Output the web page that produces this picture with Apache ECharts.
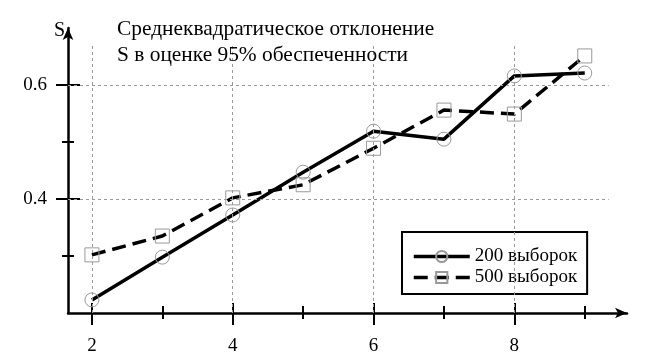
<!DOCTYPE html>
<html><head><meta charset="utf-8">
<script src="https://cdn.jsdelivr.net/npm/echarts@6/dist/echarts.min.js"></script>
<style>html,body{margin:0;padding:0;background:#fff}#c{width:650px;height:356px}</style>
</head><body><div id="c"></div>
<script>
const xValues = [2, 3, 4, 5, 6, 7, 8, 9];
const s200 = [0.223, 0.298, 0.372, 0.447, 0.519, 0.505, 0.616, 0.621];
const s500 = [0.302, 0.335, 0.402, 0.425, 0.489, 0.556, 0.549, 0.651];
const xTickMajor = [2, 4, 6, 8];
const xTickMinor = [3, 5, 7, 9];
const yTickMajor = [0.4, 0.6];
const yTickMinor = [0.3, 0.5];
const seriesNames = ['200 выборок', '500 выборок'];
const titleText = 'Среднеквадратическое отклонение\nS в оценке 95% обеспеченности';
const yName = 'S';

const serif = 'Liberation Serif';
const XMIN = 1.66, XMAX = 9.6, YMIN = 0.2, YMAX = 0.7;
const tickLS = {color: '#000', width: 2};

function xAx(o) {
  return Object.assign({type: 'value', min: XMIN, max: XMAX, position: 'bottom', offset: 0,
    splitLine: {show: false}, axisLine: {show: false}, axisLabel: {show: false}, axisTick: {show: false}}, o);
}
function yAx(o) {
  return Object.assign({type: 'value', min: YMIN, max: YMAX, position: 'left', offset: 0,
    splitLine: {show: false}, axisLine: {show: false}, axisLabel: {show: false}, axisTick: {show: false}}, o);
}
const pair = (a) => a.map((v, i) => [xValues[i], v]);

const gridLines = [];
xTickMajor.forEach(x => gridLines.push([{coord: [x, YMIN]}, {coord: [x, 0.67]}]));
yTickMajor.forEach(y => gridLines.push([{coord: [XMIN, y]}, {coord: [9.34, y]}]));

const chart = echarts.init(document.getElementById('c'), null, {renderer: 'canvas'});
chart.setOption({
  animation: false,
  backgroundColor: '#fff',
  grid: {left: 68, right: 23, top: 28, bottom: 43},
  title: {text: titleText, left: 117, top: 16, padding: 0,
    textStyle: {fontFamily: serif, fontSize: 21.4, fontWeight: 'normal', color: '#000', lineHeight: 26}},
  legend: {orient: 'vertical', left: 402, top: 232, borderColor: '#000', borderWidth: 2,
    backgroundColor: '#fff', padding: [15, 10, 7, 10], itemWidth: 56, itemHeight: 14, itemGap: 2,
    lineStyle: {width: 3.5},
    textStyle: {fontFamily: serif, fontSize: 19, color: '#000'}, data: seriesNames},
  xAxis: [
    xAx({axisLine: {show: true, lineStyle: {color: '#000', width: 2.5}, symbol: ['none', 'arrow'], symbolSize: [8, 12]},
      axisTick: {show: true, customValues: xTickMajor, length: 12, lineStyle: tickLS},
      axisLabel: {show: true, customValues: xTickMajor, margin: 24, fontFamily: serif, fontSize: 19, color: '#000'}}),
    xAx({axisTick: {show: true, inside: true, customValues: xTickMajor, length: 10, lineStyle: tickLS}}),
    xAx({axisTick: {show: true, customValues: xTickMinor, length: 6, lineStyle: tickLS}}),
    xAx({axisTick: {show: true, inside: true, customValues: xTickMinor, length: 7, lineStyle: tickLS}})
  ],
  yAxis: [
    yAx({name: yName, nameLocation: 'end', nameGap: -3,
      nameTextStyle: {fontFamily: serif, fontSize: 20, color: '#000', align: 'right', verticalAlign: 'middle', padding: [0, 3, 0, 0]},
      axisLine: {show: true, lineStyle: {color: '#000', width: 2.5}, symbol: ['none', 'arrow'], symbolSize: [8, 12]},
      axisTick: {show: true, customValues: yTickMajor, length: 12, lineStyle: tickLS},
      axisLabel: {show: true, customValues: yTickMajor, margin: 21, fontFamily: serif, fontSize: 19, color: '#000'}}),
    yAx({axisTick: {show: true, inside: true, customValues: yTickMajor, length: 12, lineStyle: tickLS}}),
    yAx({axisTick: {show: true, customValues: yTickMinor, length: 6, lineStyle: tickLS}}),
    yAx({axisTick: {show: true, inside: true, customValues: yTickMinor, length: 6, lineStyle: tickLS}})
  ],
  series: [
    {type: 'line', name: '_grid', data: [], z: 1, silent: true,
      markLine: {silent: true, symbol: ['none', 'none'], label: {show: false},
        lineStyle: {color: '#9a9a9a', width: 1, type: [3, 3]}, data: gridLines}},
    {type: 'line', name: seriesNames[0], data: pair(s200), z: 3,
      symbol: 'circle', symbolSize: 14,
      lineStyle: {color: '#000', width: 3.5, type: 'solid'},
      itemStyle: {color: 'rgba(255,255,255,0)', borderColor: '#999', borderWidth: 1}},
    {type: 'line', name: seriesNames[1], data: pair(s500), z: 3,
      symbol: 'rect', symbolSize: 14,
      lineStyle: {color: '#000', width: 3.5, type: [14, 7]},
      itemStyle: {color: 'rgba(255,255,255,0)', borderColor: '#999', borderWidth: 1}}
  ]
});
</script></body></html>
